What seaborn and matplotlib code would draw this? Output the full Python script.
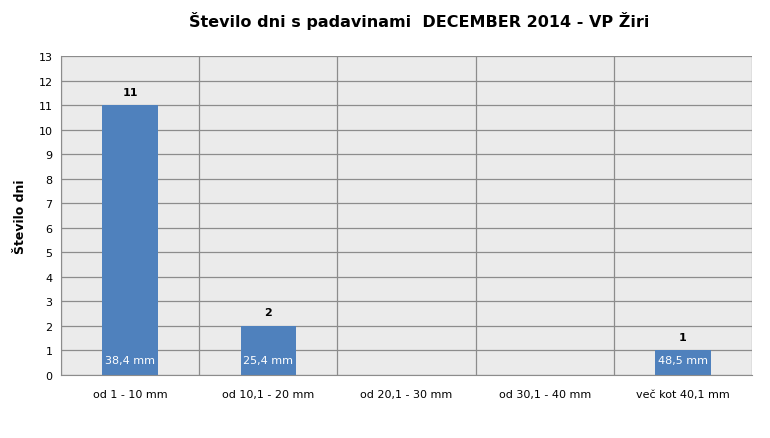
import numpy as np
import pandas as pd
import seaborn as sns
import matplotlib.pyplot as plt
from matplotlib.ticker import FixedLocator

# data
categories = ["od 1 - 10 mm", "od 10,1 - 20 mm", "od 20,1 - 30 mm", "od 30,1 - 40 mm", "več kot 40,1 mm"]
days = [11, 2, 0, 0, 1]
amounts = ["38,4 mm", "25,4 mm", "", "", "48,5 mm"]

df = pd.DataFrame({"cat": categories, "days": days})

sns.set_style("white")
plt.rcParams['font.family'] = ['DejaVu Sans']
plt.rcParams['text.color'] = 'black'
plt.rcParams['xtick.color'] = 'black'
plt.rcParams['ytick.color'] = 'black'
plt.rcParams['axes.labelcolor'] = 'black'

fig = plt.figure(figsize=(7.7, 4.39), dpi=100)
ax = fig.add_axes([0.0792, 0.1435, 0.8974, 0.7265])
ax.set_facecolor("#EBEBEB")

sns.barplot(data=df, x="cat", y="days", color="#4F81BD", saturation=1, width=0.4,
            linewidth=0, ax=ax)

ax.set_ylim(0, 13)
ax.set_xlim(-0.5, len(categories) - 0.5)
ax.set_yticks(range(0, 14))
ax.tick_params(axis="y", labelsize=8, length=4, color="#888888", pad=2)
ax.tick_params(axis="x", which="major", labelsize=8, length=0, pad=10)
ax.xaxis.set_minor_locator(FixedLocator(np.arange(-0.5, len(categories), 1)))
ax.tick_params(axis="x", which="minor", length=4, color="#888888")
ax.grid(axis="y", color="#8C8C8C", linewidth=0.9)
ax.grid(axis="x", which="minor", color="#8C8C8C", linewidth=0.9)
ax.set_axisbelow(True)
for s in ["top", "right"]:
    ax.spines[s].set_visible(False)
for s in ["left", "bottom"]:
    ax.spines[s].set_color("#8C8C8C")

for i, (d, a) in enumerate(zip(days, amounts)):
    if d > 0:
        ax.text(i, d + 0.35, str(d), ha="center", va="bottom", fontsize=8, fontweight="bold")
        ax.text(i, 0.62, a, ha="center", va="center", fontsize=8, color="white")

ax.set_xlabel("")
ax.set_ylabel("Število dni", fontsize=9, fontweight="bold", labelpad=8)
fig.suptitle("Število dni s padavinami  DECEMBER 2014 - VP Žiri", fontsize=11.5,
             fontweight="bold", x=0.545, y=0.972)

plt.savefig("out.png")
